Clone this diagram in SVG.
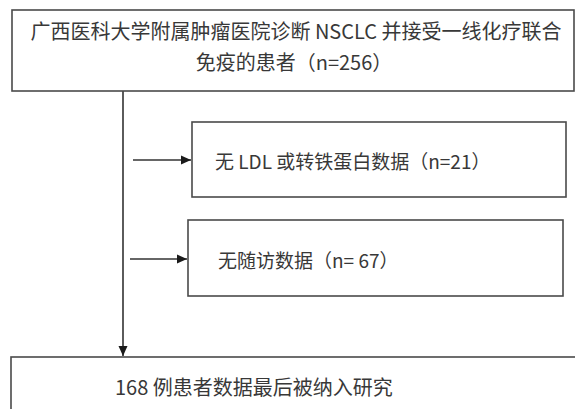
<svg xmlns="http://www.w3.org/2000/svg" width="575" height="409" viewBox="0 0 575 409">
<defs>
<style>
.box{fill:#fff;stroke:#4a4a4a;stroke-width:1.6}
.ln{fill:none;stroke:#333;stroke-width:1.6}
.t{font-family:"Noto Sans CJK SC","Liberation Sans",sans-serif;fill:#383838}
.t20{font-size:20px}
.t19{font-size:19px}
</style>
<marker id="ah" viewBox="0 0 10 10" refX="10" refY="5" markerWidth="10" markerHeight="10" markerUnits="userSpaceOnUse" orient="auto">
<path d="M0,0.5 L10,5 L0,9.5 Z" fill="#1a1a1a"/>
</marker>
</defs>
<rect width="575" height="409" fill="#fff"/>
<g id="connectors">
<line class="ln" x1="123" y1="91" x2="123" y2="356" marker-end="url(#ah)"/>
<line class="ln" x1="133" y1="160" x2="191" y2="160" marker-end="url(#ah)"/>
<line class="ln" x1="130" y1="259" x2="187" y2="259" marker-end="url(#ah)"/>
</g>
<g id="node-start">
<rect class="box" x="12" y="10" width="562" height="81"/>
<text class="t t20" x="296" y="39" text-anchor="middle">广西医科大学附属肿瘤医院诊断 NSCLC 并接受一线化疗联合</text>
<text class="t t20" x="294" y="70" text-anchor="middle">免疫的患者（n=256）</text>
</g>
<g id="node-excl1">
<rect class="box" x="192" y="122" width="374" height="75"/>
<text class="t t19" x="215" y="169">无 LDL 或转铁蛋白数据（n=21）</text>
</g>
<g id="node-excl2">
<rect class="box" x="188" y="220" width="375" height="76"/>
<text class="t t19" x="218" y="268">无随访数据（n= 67）</text>
</g>
<g id="node-final">
<rect class="box" x="11" y="357" width="600" height="100"/>
<text class="t t20" x="115" y="395">168 例患者数据最后被纳入研究</text>
</g>
</svg>
